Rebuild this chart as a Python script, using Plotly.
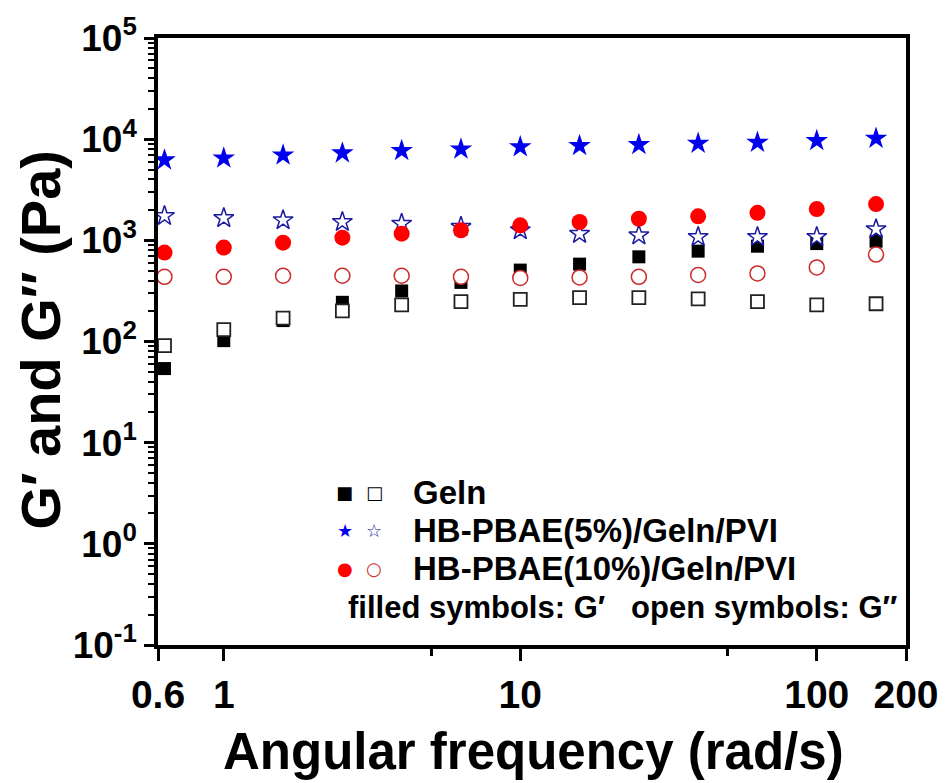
import math
import plotly.graph_objects as go

# ---- data ----
freq = [0.631, 1.0, 1.585, 2.512, 3.981, 6.310, 10.0, 15.85, 25.12, 39.81, 63.10, 100.0, 158.5]

geln_gp  = [54, 102, 161, 244, 316, 384, 508, 582, 687, 782, 875, 929, 980]
geln_gpp = [91, 131, 170, 201, 230, 248, 261, 272, 272, 264, 248, 230, 236]

p5_gp  = [6220, 6500, 6960, 7290, 7690, 7970, 8380, 8610, 8810, 9070, 9280, 9650, 10160]
p5_gpp = [1740, 1660, 1580, 1520, 1460, 1360, 1260, 1160, 1120, 1080, 1080, 1080, 1290]

p10_gp  = [757, 848, 949, 1063, 1164, 1257, 1407, 1517, 1634, 1726, 1872, 2035, 2280]
p10_gpp = [436, 436, 447, 447, 447, 436, 425, 430, 436, 454, 471, 540, 723]

x_tickvals = [0.6, 1, 10, 100, 200]
x_ticktext = ["0.6", "1", "10", "100", "200"]
x_minor = [5, 50]

y_tickvals = [0.1, 1, 10, 100, 1000, 10000, 100000]
y_ticktext = ["10<sup>-1</sup>", "10<sup>0</sup>", "10<sup>1</sup>", "10<sup>2</sup>",
              "10<sup>3</sup>", "10<sup>4</sup>", "10<sup>5</sup>"]

legend_names = ["Geln", "HB-PBAE(5%)/Geln/PVI", "HB-PBAE(10%)/Geln/PVI"]
note_text = "filled symbols: G\u2032   open symbols: G\u2033"

FONT = "Liberation Sans, Arial, sans-serif"
BLUE = "#0000EE"
RED = "#FF0000"

fig = go.Figure()

def add(y, symbol, size, fill, line_color, line_w):
    fig.add_trace(go.Scatter(
        x=freq, y=y, mode="markers", showlegend=False,
        marker=dict(symbol=symbol, size=size, color=fill,
                    line=dict(color=line_color, width=line_w))))

add(geln_gp, "square", 13, "black", "black", 0)
add(geln_gpp, "square", 13, "white", "#222222", 1.8)
add(p5_gpp, "star", 15, "white", "#1a1aa0", 1.5)
add(p10_gpp, "circle", 15, "white", "#cc2b2b", 1.5)
add(p10_gp, "circle", 16, RED, RED, 0)
add(p5_gp, "star", 17, BLUE, BLUE, 0)

# ---- legend as text annotations ----
L0 = 158; B0 = 645; W = 754; H = 610
def px(x): return (x - L0) / W
def py(y): return (B0 - y) / H

rows = [("\u25A0", "black", "\u25A1", "black"),
        ("\u2605", BLUE, "\u2606", "#1a1aa0"),
        ("\u25CF", RED, "\u25CB", "#cc2b2b")]
row_y = [492, 530, 568]
for (fs, fc, os_, oc), name, yy in zip(rows, legend_names, row_y):
    fig.add_annotation(x=px(346), y=py(yy), xref="paper", yref="paper", text=fs,
                       showarrow=False, font=dict(family="DejaVu Sans", size=18, color=fc),
                       xanchor="center", yanchor="middle")
    fig.add_annotation(x=px(376), y=py(yy), xref="paper", yref="paper", text=os_,
                       showarrow=False, font=dict(family="DejaVu Sans", size=18, color=oc),
                       xanchor="center", yanchor="middle")
    fig.add_annotation(x=px(413), y=py(yy), xref="paper", yref="paper", text=name,
                       showarrow=False, font=dict(family=FONT, size=33, color="black", weight="bold"),
                       xanchor="left", yanchor="middle")
fig.add_annotation(x=px(906), y=py(607), xref="paper", yref="paper", text=note_text,
                   showarrow=False, font=dict(family=FONT, size=31, color="black", weight="bold"),
                   xanchor="right", yanchor="middle")

# ---- axis titles ----
fig.add_annotation(x=px(537), y=py(752), xref="paper", yref="paper",
                   text="Angular frequency (rad/s)", showarrow=False,
                   font=dict(family=FONT, size=51, color="black", weight="bold"),
                   xanchor="center", yanchor="middle")
fig.add_annotation(x=px(40), y=py(338), xref="paper", yref="paper",
                   text="G\u2032 and G\u2033 (Pa)", showarrow=False, textangle=-90,
                   font=dict(family=FONT, size=56, color="black", weight="bold"),
                   xanchor="center", yanchor="middle")

fig.update_xaxes(type="log", range=[math.log10(0.6), math.log10(200)],
                 tickvals=x_tickvals, ticktext=x_ticktext,
                 ticks="outside", ticklen=12, tickwidth=3, tickcolor="black",
                 minor=dict(tickvals=x_minor, ticks="outside", ticklen=7, tickwidth=3, tickcolor="black"),
                 showline=True, linewidth=3.5, linecolor="black", mirror=True,
                 showgrid=False, zeroline=False,
                 tickfont=dict(family=FONT, size=39, color="black", weight="bold"))
fig.update_yaxes(type="log", range=[-1, 5], tickvals=y_tickvals, ticktext=y_ticktext,
                 ticks="outside", ticklen=10, tickwidth=3, tickcolor="black",
                 minor=dict(dtick="D1", ticks="outside", ticklen=6, tickwidth=2, tickcolor="black"),
                 showline=True, linewidth=3.5, linecolor="black", mirror=True,
                 showgrid=False, zeroline=False,
                 tickfont=dict(family=FONT, size=37, color="black", weight="bold"))

fig.update_layout(width=951, height=783, plot_bgcolor="white", paper_bgcolor="white",
                  margin=dict(l=158, r=39, t=35, b=138), showlegend=False)

fig.write_html("out.html")
